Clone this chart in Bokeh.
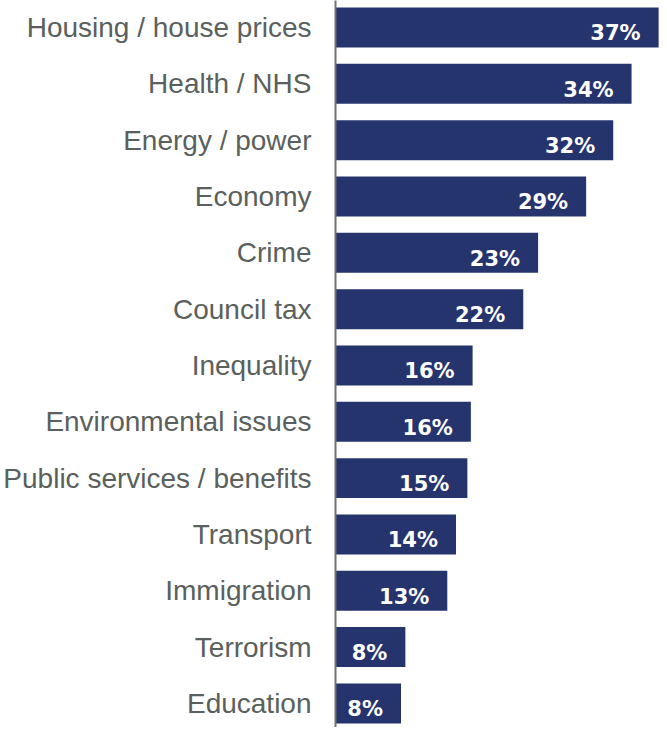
from bokeh.plotting import figure
from bokeh.models import ColumnDataSource, Range1d, FixedTicker
from bokeh.core.properties import value
from bokeh.embed import file_html
from bokeh.resources import INLINE

categories = ["Housing / house prices", "Health / NHS", "Energy / power", "Economy",
              "Crime", "Council tax", "Inequality", "Environmental issues",
              "Public services / benefits", "Transport", "Immigration", "Terrorism",
              "Education"]
values = [37.0, 33.9, 31.8, 28.7, 23.2, 21.5, 15.7, 15.5, 15.1, 13.8, 12.8, 8.0, 7.5]
labels = ["37%", "34%", "32%", "29%", "23%", "22%", "16%", "16%", "15%", "14%", "13%", "8%", "8%"]

pos = list(range(len(categories)))
src = ColumnDataSource(dict(y=pos, v=values, lab=labels))

p = figure(width=659, height=727, output_backend="svg", toolbar_location=None,
           x_range=Range1d(0, 37.1), y_range=Range1d(12.427, -0.479),
           min_border_left=334, min_border_right=0, min_border_top=0, min_border_bottom=0)
p.outline_line_color = None
p.grid.grid_line_color = None
p.xaxis.visible = False
p.background_fill_color = "white"
p.border_fill_color = "white"

p.hbar(y="y", left=0, right="v", height=0.71, source=src,
       fill_color="#26346e", line_color=None)
p.text(x="v", y="y", text="lab", source=src, x_offset=-18, y_offset=6,
       text_align="right", text_baseline="middle", text_color="white",
       text_font=value("DejaVu Sans"), text_font_style="bold", text_font_size="21px")

ax = p.yaxis[0]
ax.ticker = FixedTicker(ticks=pos)
ax.major_label_overrides = {i: c for i, c in zip(pos, categories)}
ax.major_tick_line_color = None
ax.minor_tick_line_color = None
ax.major_tick_out = 0
ax.major_tick_in = 0
ax.major_label_standoff = 24
ax.major_label_text_font = "Liberation Sans"
ax.major_label_text_font_size = "28px"
ax.major_label_text_color = "#5a605d"
ax.axis_line_color = "#6e7571"
ax.axis_line_width = 2

open("out.html", "w").write(file_html(p, INLINE))
